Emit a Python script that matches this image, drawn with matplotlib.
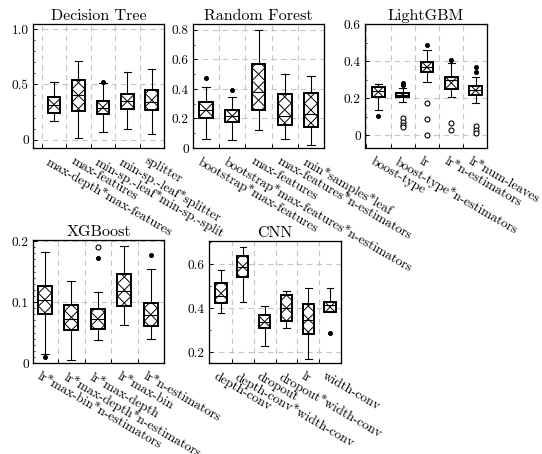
import numpy as np
import matplotlib
matplotlib.use('Agg')
import matplotlib.pyplot as plt
import matplotlib.transforms as mtransforms
from matplotlib.ticker import MultipleLocator

plt.rcParams.update({
    'font.family': 'cmr10',
    'mathtext.fontset': 'cm',
    'axes.unicode_minus': False,
    'font.size': 12.3,
})

# ---------------- data ----------------
dt_labels = ["max-depth*max-features", "max-features", "min-sp.-leaf*min-sp.-split",
             "min-sp.-leaf*splitter", "splitter"]
dt_whislo = [0.165, 0.015, 0.073, 0.097, 0.05]
dt_q1 = [0.245, 0.257, 0.235, 0.28, 0.27]
dt_med = [0.31, 0.40, 0.29, 0.35, 0.34]
dt_q3 = [0.39, 0.54, 0.35, 0.415, 0.445]
dt_whishi = [0.525, 0.71, 0.51, 0.61, 0.636]
dt_filled = [[], [], [0.52], [], []]
dt_hollow = [[], [], [], [], []]

rf_labels = ["bootstrap*max-features", "bootstrap*max-features*n-estimators", "max-features",
             "max-features*n-estimators", "min*samples*leaf"]
rf_whislo = [0.059, 0.054, 0.12, 0.063, 0.02]
rf_q1 = [0.206, 0.174, 0.255, 0.154, 0.145]
rf_med = [0.258, 0.219, 0.382, 0.219, 0.228]
rf_q3 = [0.312, 0.26, 0.569, 0.364, 0.37]
rf_whishi = [0.416, 0.346, 0.798, 0.50, 0.486]
rf_filled = [[0.472], [0.393], [], [], []]
rf_hollow = [[], [], [], [], []]

lg_labels = ["boost-type", "boost-type*n-estimators", "lr", "lr*n-estimators", "lr*num-leaves"]
lg_whislo = [0.136, 0.178, 0.29, 0.209, 0.176]
lg_q1 = [0.21, 0.205, 0.342, 0.249, 0.22]
lg_med = [0.24, 0.218, 0.372, 0.30, 0.245]
lg_q3 = [0.26, 0.231, 0.396, 0.318, 0.267]
lg_whishi = [0.276, 0.255, 0.463, 0.39, 0.314]
lg_filled = [[0.107], [0.285, 0.278, 0.27], [0.489], [0.409], [0.369, 0.345]]
lg_hollow = [[], [0.095, 0.075, 0.058, 0.045], [0.173, 0.089, 0.002], [0.069, 0.031],
             [0.049, 0.031, 0.015]]

xg_labels = ["lr*max-bin*n-estimators", "lr*max-depth*n-estimators", "lr*max-depth",
             "lr*max-bin", "lr*n-estimators"]
xg_whislo = [0.015, 0.005, 0.038, 0.062, 0.039]
xg_q1 = [0.081, 0.054, 0.056, 0.094, 0.06]
xg_med = [0.103, 0.072, 0.073, 0.118, 0.079]
xg_q3 = [0.127, 0.096, 0.089, 0.146, 0.099]
xg_whishi = [0.182, 0.134, 0.116, 0.192, 0.154]
xg_filled = [[0.01], [], [0.172], [], [0.178]]
xg_hollow = [[], [], [0.19], [], []]

cnn_labels = ["depth-conv", "depth-conv*width-conv", "dropout", "dropout*width-conv",
              "lr", "width-conv"]
cnn_whislo = [0.379, 0.429, 0.229, 0.308, 0.168, 0.38]
cnn_q1 = [0.421, 0.54, 0.308, 0.341, 0.28, 0.38]
cnn_med = [0.456, 0.588, 0.335, 0.40, 0.345, 0.414]
cnn_q3 = [0.512, 0.638, 0.368, 0.459, 0.42, 0.429]
cnn_whishi = [0.571, 0.679, 0.409, 0.479, 0.489, 0.489]
cnn_filled = [[], [], [], [], [], [0.288]]
cnn_hollow = [[], [], [], [], [], []]

# ---------------- layout ----------------
DPI = 78
W, H = 542, 454
HATCH_PERIOD = 13.0  # pixels
fig = plt.figure(figsize=(W / DPI, H / DPI), dpi=DPI)

panels = [
    dict(title="Decision Tree", rect=(33, 24, 164, 148), xlim=(0.14, 5.5), gridx=[0.5, 1.5, 2.5, 3.5, 4.5],
         ylim=(-0.075, 1.045), yticks=[0, 0.5, 1.0], ytl=["0", "0.5", "1.0"], minor=0.1,
         labels=dt_labels, whislo=dt_whislo, q1=dt_q1, med=dt_med, q3=dt_q3, whishi=dt_whishi,
         filled=dt_filled, hollow=dt_hollow),
    dict(title="Random Forest", rect=(193, 24, 324, 148), xlim=(0.5, 5.5), gridx=[1.5, 2.5, 3.5, 4.5],
         ylim=(0, 0.84), yticks=[0, 0.2, 0.4, 0.6, 0.8], ytl=["0", "0.2", "0.4", "0.6", "0.8"], minor=0.1,
         labels=rf_labels, whislo=rf_whislo, q1=rf_q1, med=rf_med, q3=rf_q3, whishi=rf_whishi,
         filled=rf_filled, hollow=rf_hollow),
    dict(title="LightGBM", rect=(365, 24, 487, 148), xlim=(0.45, 5.47), gridx=[0.5, 1.5, 2.5, 3.5, 4.5],
         ylim=(-0.068, 0.602), yticks=[0, 0.2, 0.4, 0.6], ytl=["0", "0.2", "0.4", "0.6"], minor=0.1,
         labels=lg_labels, whislo=lg_whislo, q1=lg_q1, med=lg_med, q3=lg_q3, whishi=lg_whishi,
         filled=lg_filled, hollow=lg_hollow),
    dict(title="XGBoost", rect=(33, 240, 164, 363), xlim=(0.55, 5.5), gridx=[1.5, 2.5, 3.5, 4.5],
         ylim=(0.0, 0.202), yticks=[0, 0.1, 0.2], ytl=["0", "0.1", "0.2"], minor=0.01,
         labels=xg_labels, whislo=xg_whislo, q1=xg_q1, med=xg_med, q3=xg_q3, whishi=xg_whishi,
         filled=xg_filled, hollow=xg_hollow),
    dict(title="CNN", rect=(209, 241, 341, 363), xlim=(0.45, 6.5), gridx=[1.5, 2.5, 3.5, 4.5, 5.5],
         ylim=(0.15, 0.705), yticks=[0.2, 0.4, 0.6], ytl=["0.2", "0.4", "0.6"], minor=0.1,
         labels=cnn_labels, whislo=cnn_whislo, q1=cnn_q1, med=cnn_med, q3=cnn_q3, whishi=cnn_whishi,
         filled=cnn_filled, hollow=cnn_hollow),
]

grid_kw = dict(color='#c4c4c4', linestyle=(0, (5, 4)), linewidth=1.0, zorder=0)
ident = mtransforms.IdentityTransform()


def crosshatch(ax, patch):
    """Draw an X-hatch (fixed pixel period) clipped to a box patch."""
    bb = patch.get_window_extent()
    cx = 0.5 * (bb.x0 + bb.x1)
    cy = 0.5 * (bb.y0 + bb.y1)
    half = max(bb.width, bb.height) + HATCH_PERIOD
    kmax = int(np.ceil(2 * half / HATCH_PERIOD)) + 1
    for sgn in (1, -1):
        for k in range(-kmax, kmax + 1):
            off = k * HATCH_PERIOD
            xs = np.array([cx - half, cx + half])
            ys = cy + off + sgn * (xs - cx)
            ln, = ax.plot(xs, ys, transform=ident, color='black', linewidth=0.9,
                          solid_capstyle='butt', zorder=2.5)
            ln.set_clip_path(patch)


for p in panels:
    l, t, r, b = p['rect']
    ax = fig.add_axes([l / W, 1 - b / H, (r - l) / W, (b - t) / H])
    ax.set_xlim(*p['xlim'])
    ax.set_ylim(*p['ylim'])
    n = len(p['labels'])
    pos = list(range(1, n + 1))
    stats = []
    for i in range(n):
        stats.append(dict(med=p['med'][i], q1=p['q1'][i], q3=p['q3'][i],
                          whislo=p['whislo'][i], whishi=p['whishi'][i], fliers=p['filled'][i]))
    res = ax.bxp(stats, positions=pos, widths=0.52, capwidths=0.3, patch_artist=True, showfliers=True,
                 boxprops=dict(facecolor='white', edgecolor='black', linewidth=1.6, zorder=2),
                 whiskerprops=dict(color='black', linewidth=1.0),
                 capprops=dict(color='black', linewidth=1.0),
                 medianprops=dict(color='black', linewidth=1.0, zorder=2.6),
                 flierprops=dict(marker='o', markerfacecolor='black', markeredgecolor='black',
                                 markersize=3.6, linestyle='none'))
    ax.set_xlim(*p['xlim'])
    ax.set_ylim(*p['ylim'])
    for bx in res['boxes']:
        crosshatch(ax, bx)
        # re-draw outline on top of hatch
        ol = matplotlib.patches.PathPatch(bx.get_path(), transform=bx.get_transform(),
                                          facecolor='none', edgecolor='black', linewidth=1.6, zorder=2.7)
        ax.add_patch(ol)
    for i in range(n):
        hv = p['hollow'][i]
        if hv:
            ax.plot([pos[i]] * len(hv), hv, linestyle='none', marker='o', markersize=4.6,
                    markerfacecolor='white', markeredgecolor='black', markeredgewidth=1.0, zorder=3)
    ax.set_axisbelow(True)
    for gx in p['gridx']:
        ax.axvline(gx, **grid_kw)
    for gy in p['yticks']:
        ax.axhline(gy, **grid_kw)
    ax.set_xticks(p['gridx'])
    ax.set_xticklabels([])
    ax.set_yticks(p['yticks'])
    ax.set_yticklabels(p['ytl'])
    ax.yaxis.set_minor_locator(MultipleLocator(p['minor']))
    ax.tick_params(axis='both', which='major', direction='in', length=4, width=0.9,
                   top=False, right=False, pad=4)
    ax.tick_params(axis='y', which='minor', direction='in', length=2.2, width=0.7, right=False)
    ax.tick_params(axis='x', which='minor', bottom=False, top=False)
    for s in ax.spines.values():
        s.set_linewidth(1.2)
    ax.set_title(p['title'], pad=4)
    tr = mtransforms.blended_transform_factory(ax.transData, ax.transAxes) + \
        mtransforms.ScaledTranslation(-3.5 / DPI, -7 / DPI, fig.dpi_scale_trans)
    for i, lab in enumerate(p['labels']):
        ax.text(pos[i], 0, lab, transform=tr, rotation=-30, rotation_mode='anchor',
                ha='left', va='top', clip_on=False)
    ax.set_xlim(*p['xlim'])
    ax.set_ylim(*p['ylim'])

fig.savefig('out.png', dpi=DPI)
